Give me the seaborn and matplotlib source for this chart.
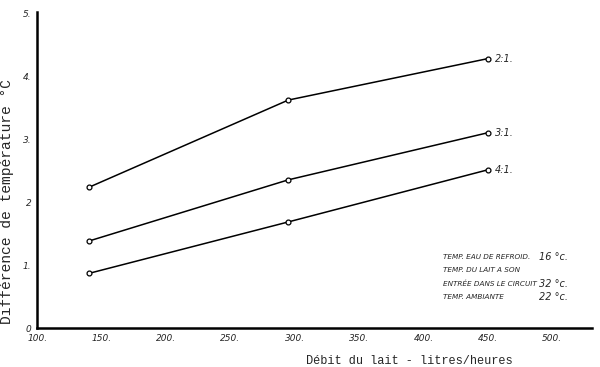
import matplotlib
matplotlib.use("Agg")
import matplotlib.pyplot as plt
import seaborn as sns
import pandas as pd

# Data
debit = [140, 295, 450]
ratio_2_1 = [2.24, 3.63, 4.29]
ratio_3_1 = [1.385, 2.36, 3.11]
ratio_4_1 = [0.87, 1.69, 2.52]
series_names = ["2:1.", "3:1.", "4:1."]
x_ticks = [100, 150, 200, 250, 300, 350, 400, 450, 500]
x_tick_labels = ["100.", "150.", "200.", "250.", "300.", "350.", "400.", "450.", "500."]
y_ticks = [0, 1, 2, 3, 4, 5]
y_tick_labels = ["0", "1.", "2", "3.", "4.", "5."]
note_labels = ["TEMP. EAU DE REFROID.", "TEMP. DU LAIT A SON",
               "ENTRÉE DANS LE CIRCUIT", "TEMP. AMBIANTE"]
note_values = ["16 °c.", "", "32 °c.", "22 °c."]

rows = []
for name, vals in zip(series_names, [ratio_2_1, ratio_3_1, ratio_4_1]):
    for x, y in zip(debit, vals):
        rows.append({"debit": x, "diff": y, "serie": name})
df = pd.DataFrame(rows)

sns.set_style("white")
fig = plt.figure(figsize=(6.0, 3.67), dpi=100)
ax = fig.add_axes([0.062, 0.106, 0.925, 0.861])

sns.lineplot(data=df, x="debit", y="diff", units="serie", estimator=None,
             color="black", linewidth=1.1, marker="o", markersize=3.5,
             markerfacecolor="white", markeredgecolor="black",
             markeredgewidth=0.9, ax=ax, legend=False)

ax.set_xlim(100, 531)
ax.set_ylim(0, 5.03)
ax.set_xticks(x_ticks)
ax.set_xticklabels(x_tick_labels, fontstyle="italic", fontsize=6.5)
ax.set_yticks(y_ticks)
ax.set_yticklabels(y_tick_labels, fontstyle="italic", fontsize=6.5)
ax.tick_params(axis="both", direction="inout", length=4, width=0.8,
               color="black", pad=2)

for s in ["top", "right"]:
    ax.spines[s].set_visible(False)
ax.spines["left"].set_linewidth(1.8)
ax.spines["bottom"].set_linewidth(1.8)
ax.spines["left"].set_color("black")
ax.spines["bottom"].set_color("black")

ax.set_xlabel("Débit du lait - litres/heures", family="Liberation Mono",
              fontsize=8.6)
ax.xaxis.set_label_coords(0.67, -0.085)
ax.set_ylabel("Différence de température °C", family="Liberation Mono",
              fontsize=10.5)
ax.yaxis.set_label_coords(-0.042, 0.40)

for name, vals in zip(series_names, [ratio_2_1, ratio_3_1, ratio_4_1]):
    ax.annotate(name, (debit[-1], vals[-1]), xytext=(5, 0),
                textcoords="offset points", va="center", ha="left",
                fontstyle="italic", fontsize=7)

y0 = 1.13
for i, (lab, val) in enumerate(zip(note_labels, note_values)):
    yy = y0 - i * 0.213
    ax.text(415, yy, lab, fontstyle="italic", fontsize=5.2, va="center", ha="left")
    if val:
        ax.text(490, yy, val, fontstyle="italic", fontsize=7, va="center", ha="left")

fig.savefig("out.png", dpi=100)
